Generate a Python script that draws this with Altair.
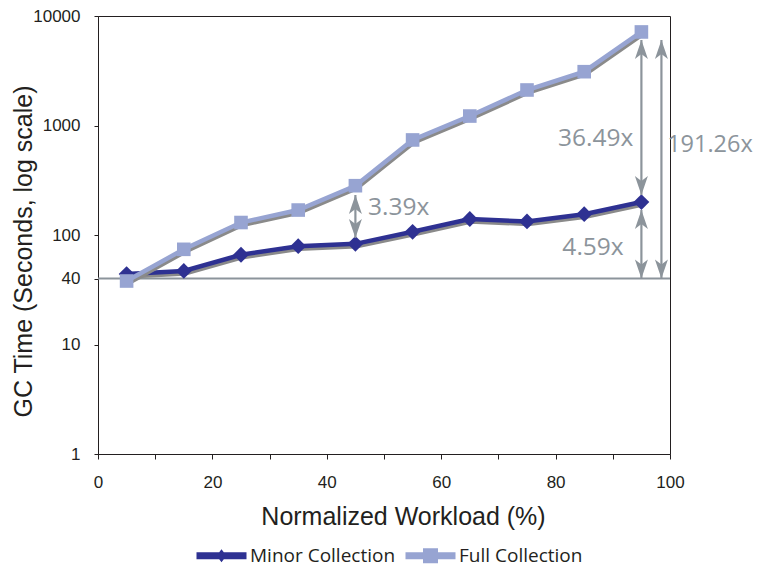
import altair as alt
import pandas as pd

# ---- data ----
workload = [5, 15, 25, 35, 45, 55, 65, 75, 85, 95]
minor = [44, 47, 66, 79, 83, 107, 140, 133, 155, 200]
full = [38, 74, 130, 169, 282, 738, 1220, 2110, 3100, 7150]
series = ["Minor Collection", "Full Collection"]
colors = ["#2e3192", "#97a4d2"]
baseline_value = 40
y_ticks = [1, 10, 40, 100, 1000, 10000]
x_ticks = [0, 10, 20, 30, 40, 50, 60, 70, 80, 90, 100]

arrow_x = [45, 95, 95, 98.5]
arrow_low = [94, 232, 40, 40]
arrow_high = [232, 6040, 169, 6040]

left_labels = ["3.39x"]
left_x = [47.2]
left_y = [175]
outer_labels = ["191.26x"]
outer_x = [99.5]
outer_y = [664]
right_labels = ["36.49x", "4.59x"]
right_x = [93.6, 91.9]
right_y = [745, 76]

GRAY = "#8c949b"
SHADOW = "#8a8a8a"
INK = "#231f20"

df_minor = pd.DataFrame({"x": workload, "y": minor})
df_full = pd.DataFrame({"x": workload, "y": full})
df_legend = pd.DataFrame({"x": workload[:2], "y": [minor[0], full[0]], "series": series})
df_base = pd.DataFrame({"x": [0], "x2": [100], "y": [baseline_value]})
df_arrows = pd.DataFrame({"x": arrow_x, "low": arrow_low, "high": arrow_high})
df_left = pd.DataFrame({"x": left_x, "y": left_y, "t": left_labels})
df_outer = pd.DataFrame({"x": outer_x, "y": outer_y, "t": outer_labels})
df_right = pd.DataFrame({"x": right_x, "y": right_y, "t": right_labels})

xscale = alt.Scale(domain=[0, 100], nice=False, zero=False)
yscale = alt.Scale(type="log", domain=[1, 10000], nice=False)

xaxis = alt.Axis(values=x_ticks, labelExpr="datum.value % 20 == 0 ? datum.label : ''",
                 title="Normalized Workload (%)", grid=False, tickSize=5, labelFlush=False,
                 labelBaseline="alphabetic", labelPadding=28,
                 titleX=305, titleY=70, titleBaseline="alphabetic", titleAnchor="middle")
yaxis = alt.Axis(values=y_ticks, format="d", title="GC Time (Seconds, log scale)", grid=False,
                 tickSize=4, labelPadding=14, labelFlush=False, titleX=-62, titleY=235)


def X(field="x"):
    return alt.X(f"{field}:Q", scale=xscale, axis=xaxis)


def Y(field="y"):
    return alt.Y(f"{field}:Q", scale=yscale, axis=yaxis)


base_rule = alt.Chart(df_base).mark_rule(color=GRAY, strokeWidth=2).encode(
    x=X(), x2="x2:Q", y=Y())

minor_shadow = alt.Chart(df_minor).mark_line(color=SHADOW, strokeWidth=4.5, xOffset=1, yOffset=2.5).encode(x=X(), y=Y())
minor_line = alt.Chart(df_minor).mark_line(color=colors[0], strokeWidth=4.5).encode(x=X(), y=Y())
minor_pts = alt.Chart(df_minor).mark_point(shape="diamond", filled=True, size=250, color=colors[0], opacity=1).encode(x=X(), y=Y())

full_shadow = alt.Chart(df_full).mark_line(color=SHADOW, strokeWidth=4.5, xOffset=1, yOffset=2.5).encode(x=X(), y=Y())
full_line = alt.Chart(df_full).mark_line(color=colors[1], strokeWidth=4.5).encode(x=X(), y=Y())
full_pts = alt.Chart(df_full).mark_point(shape="square", filled=True, size=185, color=colors[1], opacity=1).encode(x=X(), y=Y())

up_head = "M0,0 L0.65,1.9 L0,1.4 L-0.65,1.9 Z"
down_head = "M0,0 L0.65,-1.9 L0,-1.4 L-0.65,-1.9 Z"

shafts = alt.Chart(df_arrows).mark_rule(color=GRAY, strokeWidth=2.2).encode(x=X(), y=Y("low"), y2="high:Q")
heads_up = alt.Chart(df_arrows).mark_point(shape=up_head, filled=True, size=400, color=GRAY, opacity=1).encode(x=X(), y=Y("high"))
heads_down = alt.Chart(df_arrows).mark_point(shape=down_head, filled=True, size=400, color=GRAY, opacity=1).encode(x=X(), y=Y("low"))

txt_left = alt.Chart(df_left).mark_text(font="Open Sans", fontSize=24.5, color=GRAY, align="left", baseline="middle").encode(x=X(), y=Y(), text="t:N")
txt_outer = alt.Chart(df_outer).mark_text(font="Open Sans", fontSize=23.5, color=GRAY, align="left", baseline="middle").encode(x=X(), y=Y(), text="t:N")
txt_right = alt.Chart(df_right).mark_text(font="Open Sans", fontSize=24.5, color=GRAY, align="right", baseline="middle").encode(x=X(), y=Y(), text="t:N")

minor_sym = "M-5,-0.7 L-0.46,-0.7 L0,-1.3 L0.46,-0.7 L5,-0.7 L5,0.7 L0.46,0.7 L0,1.3 L-0.46,0.7 L-5,0.7 Z"
full_sym = "M-5,-0.7 L-1.5,-0.7 L-1.5,-1.5 L1.5,-1.5 L1.5,-0.7 L5,-0.7 L5,0.7 L1.5,0.7 L1.5,1.5 L-1.5,1.5 L-1.5,0.7 L-5,0.7 Z"

leg = alt.Legend(orient="none", legendX=98, legendY=530, direction="horizontal", title=None,
                 labelFont="Open Sans", labelFontSize=19, labelColor=INK, symbolOffset=16,
                 labelOffset=19, columnPadding=9, symbolStrokeWidth=0, padding=0,
                 symbolOpacity=1, symbolSize=100)

legend_layer = alt.Chart(df_legend).mark_point(filled=True, opacity=0, size=100).encode(
    x=X(), y=Y(),
    color=alt.Color("series:N", scale=alt.Scale(domain=series, range=colors), legend=leg),
    shape=alt.Shape("series:N", scale=alt.Scale(domain=series, range=[minor_sym, full_sym]), legend=leg),
)

chart = alt.layer(
    base_rule, minor_shadow, minor_line, minor_pts, full_shadow, full_line, full_pts,
    shafts, heads_up, heads_down, txt_left, txt_outer, txt_right, legend_layer
).properties(
    width=572, height=438,
    autosize=alt.AutoSizeParams(type="none"),
    padding={"left": 90, "top": 8, "right": 84, "bottom": 113},
).configure_view(
    stroke=INK, strokeWidth=1
).configure_axis(
    domainColor=INK, tickColor=INK, labelColor=INK, titleColor=INK,
    labelFont="Liberation Sans", labelFontSize=17,
    titleFont="Liberation Sans", titleFontSize=25, titleFontWeight="normal",
    domainWidth=1, tickWidth=1,
)

chart.save("out.html", embed_options={"renderer": "svg", "actions": False})
